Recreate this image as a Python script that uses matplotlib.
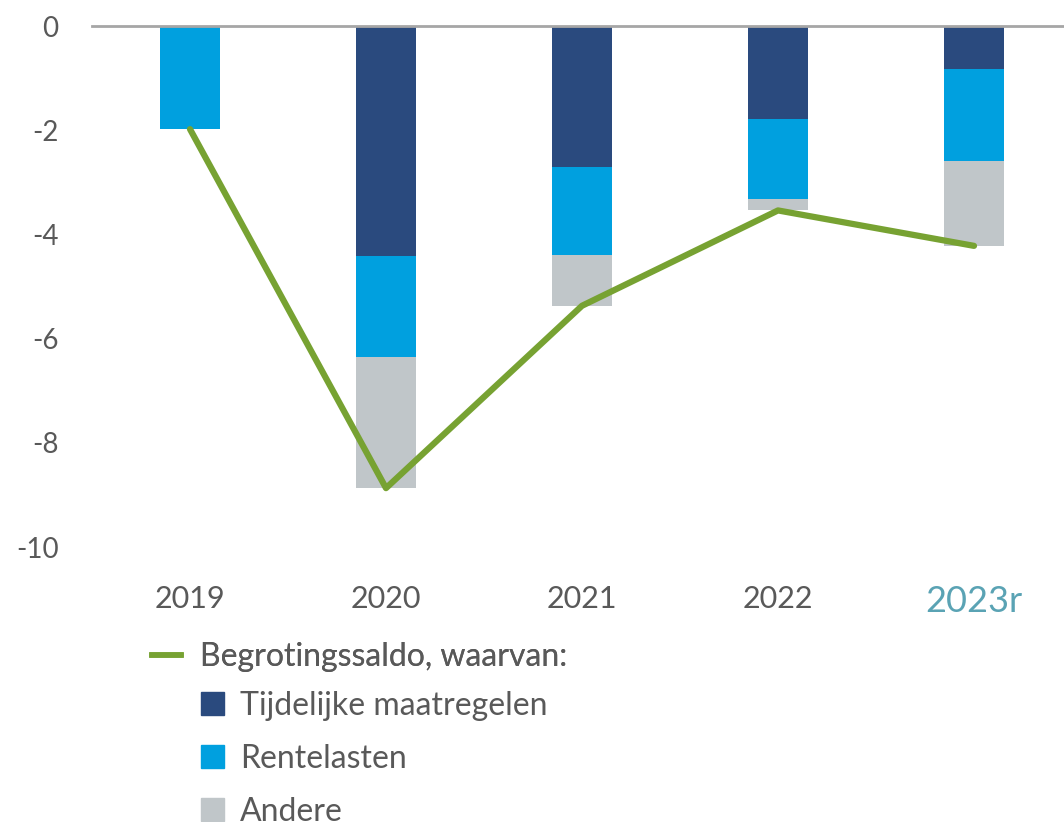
import numpy as np
import matplotlib.pyplot as plt
from matplotlib.patches import Patch
from matplotlib.lines import Line2D

jaren = ["2019", "2020", "2021", "2022", "2023r"]
tijdelijk = [0.0, -4.41, -2.71, -1.78, -0.83]
rente = [-1.98, -1.94, -1.68, -1.54, -1.76]
andere = [0.0, -2.51, -0.98, -0.22, -1.63]
saldo = [-1.98, -8.87, -5.37, -3.54, -4.22]

kleur_tijd = "#2a4a7e"
kleur_rente = "#00a0df"
kleur_andere = "#c0c6c9"
kleur_saldo = "#77a232"
tekst = "#595959"

plt.rcParams["font.family"] = ["Lato", "DejaVu Sans"]

fig = plt.figure(figsize=(10.64, 8.22), dpi=100)
ax = fig.add_axes([92 / 1064, (822 - 547) / 822, 972 / 1064, 521 / 822])

x = np.arange(len(jaren))
b = 0.31
ax.bar(x, tijdelijk, b, color=kleur_tijd)
ax.bar(x, rente, b, bottom=tijdelijk, color=kleur_rente)
onder = np.array(tijdelijk) + np.array(rente)
ax.bar(x, andere, b, bottom=onder, color=kleur_andere)
ax.plot(x, saldo, color=kleur_saldo, lw=4.5, solid_capstyle="round", zorder=3)

ax.axhline(0, color="#a6a6a6", lw=2, clip_on=False, zorder=4)

ax.set_xlim(-0.5, -0.5 + 972 / 196)
ax.set_ylim(-10, 0)
ax.set_yticks(np.arange(-10, 1, 2))
ax.set_yticklabels([str(v) for v in range(-10, 1, 2)])
ax.tick_params(axis="y", length=0, pad=24, labelsize=20, labelcolor=tekst)
ax.set_xticks(x)
ax.set_xticklabels(jaren)
ax.tick_params(axis="x", length=0, pad=27, labelsize=22, labelcolor=tekst)
lbl = ax.get_xticklabels()[-1]
lbl.set_color("#5aa3b4")
lbl.set_fontsize(26)
for s in ax.spines.values():
    s.set_visible(False)

# legenda
leg1 = fig.legend(handles=[Line2D([], [], color=kleur_saldo, lw=4)],
                  labels=["Begrotingssaldo, waarvan:"],
                  loc="upper left", bbox_to_anchor=(123 / 1064, 1 - 613 / 822),
                  frameon=False, fontsize=23, labelcolor=tekst,
                  handlelength=0.9, handletextpad=0.6)
fig.add_artist(leg1)
fig.legend(handles=[Patch(color=kleur_tijd), Patch(color=kleur_rente), Patch(color=kleur_andere)],
           labels=["Tijdelijke maatregelen", "Rentelasten", "Andere"],
           loc="upper left", bbox_to_anchor=(172 / 1064, 1 - 662 / 822),
           frameon=False, fontsize=23, labelcolor=tekst,
           handlelength=0.72, handleheight=0.72, handletextpad=0.5,
           labelspacing=0.72)

fig.savefig("out.png", dpi=100)
